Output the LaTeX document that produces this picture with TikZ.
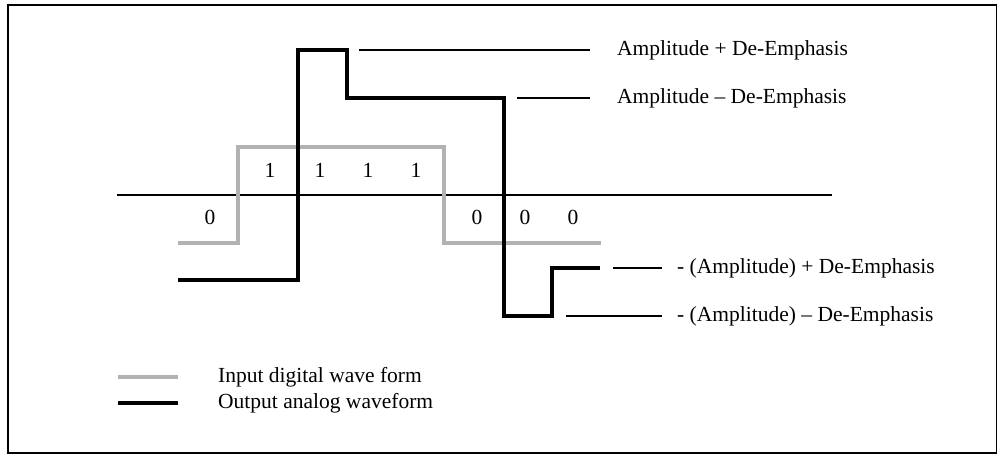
\documentclass[tikz,border=0pt]{standalone}
\usepackage{fontspec}
\setmainfont{Liberation Serif}
\usetikzlibrary{positioning}
\definecolor{wavegray}{RGB}{178,178,178}

\begin{document}
\begin{tikzpicture}[
    x=1pt, y=-1pt, % pixel grid, y downwards
    wave/.style={line width=4pt, line join=miter},
    inwave/.style={wave, draw=wavegray},
    outwave/.style={wave, draw=black},
    leader/.style={line width=1.2pt},
    txt/.style={inner sep=0pt, font=\fontsize{21.5}{25}\selectfont},
    lbl/.style={txt, anchor=west}
]
\useasboundingbox (0,0) rectangle (997,455);

% --- FRAME ---
\draw[line width=2pt] (8,5) rectangle (997,453);

% --- AXIS ---
\draw[leader] (117,195) -- (832,195);

% --- WAVES ---
\draw[inwave] (178,243) -- (238,243) -- (238,147) -- (444,147)
    -- (444,243) -- (601,243);
\draw[outwave] (178,280) -- (298,280) -- (298,50) -- (347,50)
    -- (347,98) -- (504,98) -- (504,316) -- (552,316)
    -- (552,268) -- (600,268);

% --- BITS ---
\foreach \x [count=\i] in {270,320,368,416}
    \node[txt] (one\i) at (\x,170) {1};
\foreach \x [count=\i] in {210,477,525,573}
    \node[txt] (zero\i) at (\x,217) {0};

% --- LEVEL LABELS ---
\node[lbl] (ampplus) at (617,50) {Amplitude + De-Emphasis};
\node[lbl] (ampminus) at (617,98) {Amplitude -- De-Emphasis};
\node[lbl] (negplus) at (677,268) {- (Amplitude) + De-Emphasis};
\node[lbl] (negminus) at (677,316) {- (Amplitude) -- De-Emphasis};

\coordinate (topA) at (359,50);
\coordinate (topB) at (517,98);
\coordinate (botA) at (613,268);
\coordinate (botB) at (566,316);

\draw[leader] (topA) -- ([xshift=-27pt]ampplus.west);
\draw[leader] (topB) -- ([xshift=-27pt]ampminus.west);
\draw[leader] (botA) -- ([xshift=-15pt]negplus.west);
\draw[leader] (botB) -- ([xshift=-15pt]negminus.west);

% --- LEGEND ---
\node[lbl] (legin) at (218,377) {Input digital wave form};
\node[lbl] (legout) at (218,403) {Output analog waveform};
\draw[inwave] (118,377) -- (178,377);
\draw[outwave] (118,403) -- (178,403);

\end{tikzpicture}
\end{document}
